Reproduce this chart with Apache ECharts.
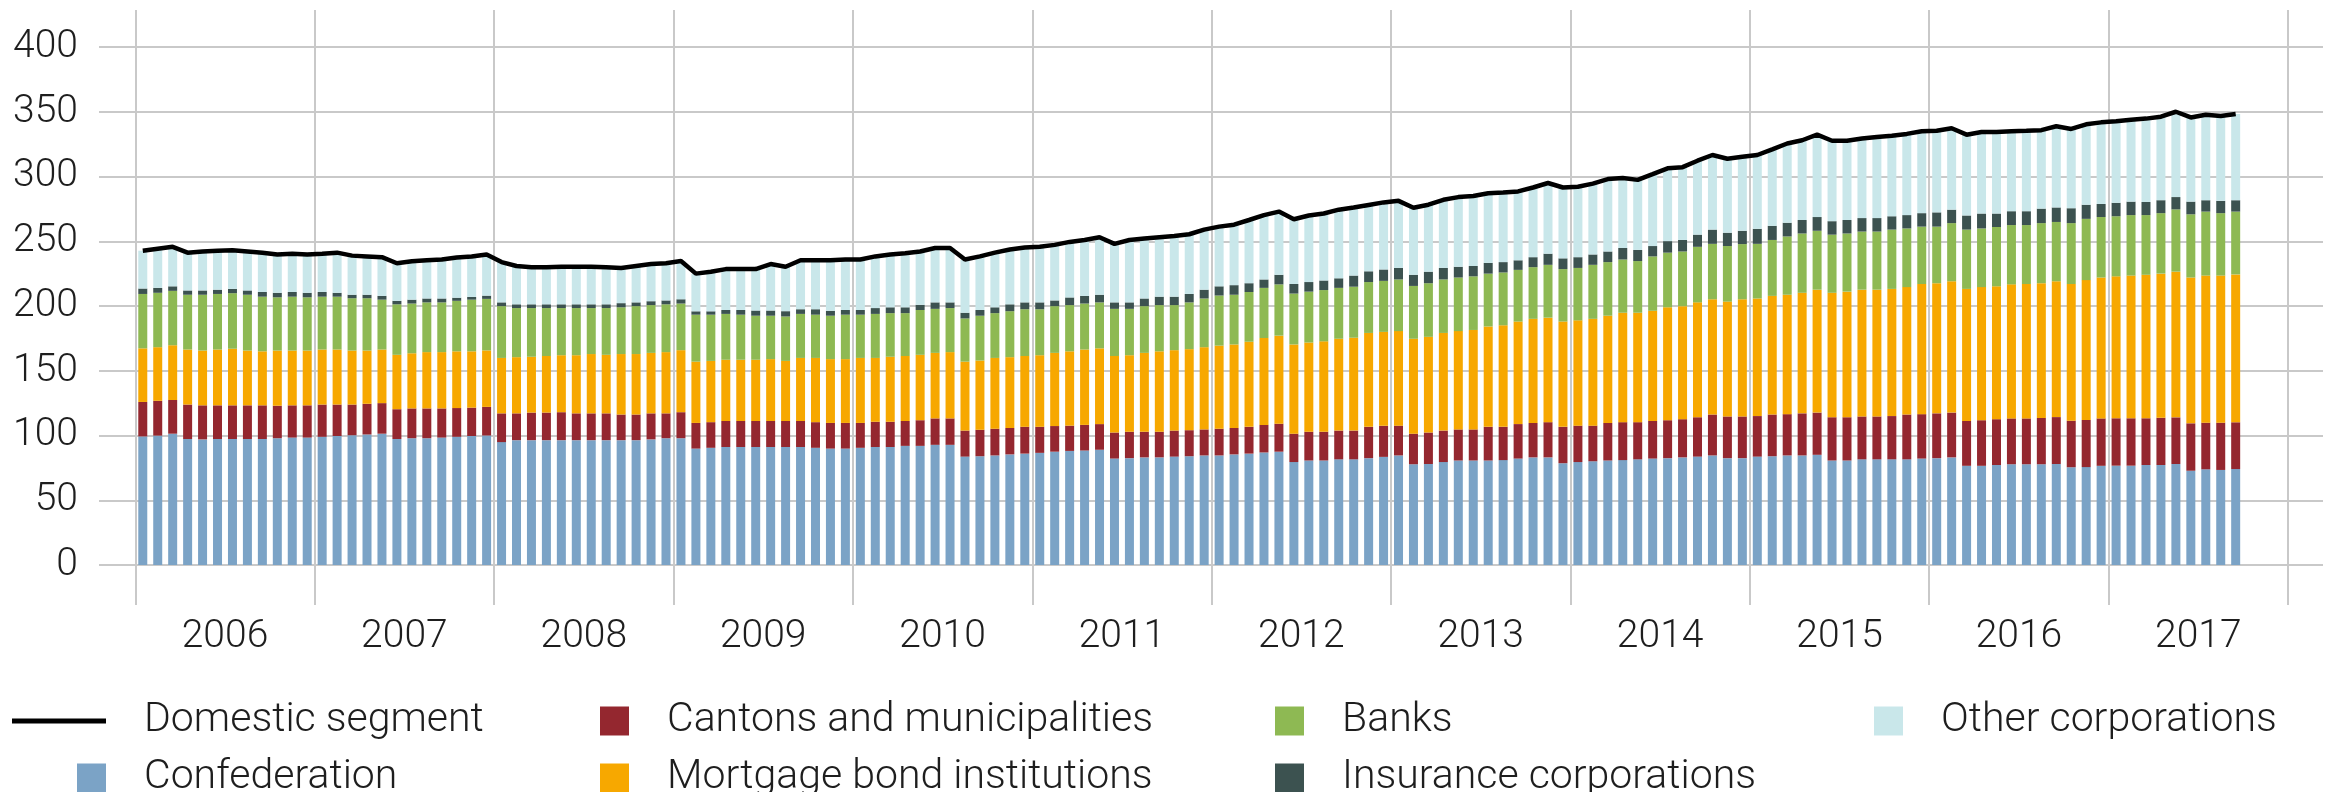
<!DOCTYPE html>
<html>
<head>
<meta charset="utf-8">
<script src="https://cdn.jsdelivr.net/npm/echarts@6/dist/echarts.min.js"></script>
<style>
  html, body { margin: 0; padding: 0; background: #fff; }
  #chart { width: 2335px; height: 792px; }
</style>
</head>
<body>
<div id="chart"></div>
<script>
// years on the axis, bars are monthly (Jan 2006 - Sep 2017)
const years = ['2006', '2007', '2008', '2009', '2010', '2011', '2012', '2013', '2014', '2015', '2016', '2017'];
const yTicks = [0, 50, 100, 150, 200, 250, 300, 350, 400];

// CHF bn, one row per year
const confederation = [
  99.3, 99.9, 101.4, 97.3, 97.0, 97.3, 97.3, 97.3, 97.3, 97.9, 98.4, 98.4,
  99.0, 99.6, 100.2, 100.8, 101.4, 97.3, 97.9, 97.9, 98.4, 99.0, 99.6, 100.0,
  94.9, 96.4, 96.4, 96.4, 96.4, 96.4, 96.4, 96.4, 96.4, 96.4, 97.0, 97.9,
  97.9, 89.9, 90.5, 91.1, 91.1, 91.1, 91.1, 91.1, 91.1, 90.5, 89.9, 89.9,
  90.5, 91.1, 91.1, 92.0, 92.0, 92.8, 92.8, 83.7, 84.0, 84.6, 85.4, 86.0,
  86.6, 87.5, 88.1, 88.4, 89.0, 82.2, 82.5, 83.1, 83.1, 83.7, 84.0, 84.6,
  84.6, 85.4, 86.0, 86.9, 87.5, 79.5, 80.7, 80.7, 81.6, 81.6, 82.5, 83.5,
  84.6, 77.8, 78.0, 79.5, 80.7, 80.7, 80.7, 81.0, 82.2, 83.1, 83.1, 78.6,
  79.5, 80.1, 80.7, 81.0, 81.6, 82.2, 82.5, 83.1, 83.7, 84.6, 82.5, 82.5,
  83.7, 84.0, 84.6, 84.6, 85.1, 80.7, 80.7, 81.6, 81.6, 81.6, 81.6, 82.2,
  82.5, 83.1, 76.6, 76.6, 77.2, 77.8, 77.8, 77.8, 78.0, 75.5, 75.6, 76.6,
  76.7, 76.7, 77.2, 77.2, 78.0, 72.8, 73.9, 73.4, 74.1
];
const cantons = [
  26.6, 26.9, 26.0, 26.6, 26.3, 26.0, 26.0, 26.0, 26.0, 25.1, 24.9, 24.9,
  24.9, 24.3, 23.7, 23.7, 23.6, 23.0, 23.0, 23.0, 22.5, 22.2, 21.9, 22.1,
  22.2, 20.7, 21.3, 21.3, 21.6, 20.7, 20.7, 20.7, 19.8, 19.8, 20.1, 19.2,
  20.1, 19.8, 19.8, 20.1, 20.1, 20.1, 20.1, 20.1, 20.1, 19.8, 19.8, 19.8,
  19.2, 19.5, 19.5, 19.2, 19.8, 20.4, 20.4, 20.1, 20.4, 20.6, 20.4, 20.7,
  20.1, 19.8, 19.5, 19.8, 19.8, 20.1, 20.4, 19.8, 19.8, 20.1, 20.1, 20.1,
  20.6, 20.4, 20.7, 21.3, 21.6, 21.9, 22.2, 22.2, 22.2, 22.2, 24.2, 24.0,
  23.0, 23.6, 24.3, 24.3, 24.0, 24.0, 26.0, 25.7, 26.6, 26.6, 27.2, 28.1,
  28.1, 27.5, 29.0, 29.3, 28.7, 29.0, 29.3, 29.5, 30.4, 31.6, 32.2, 32.2,
  31.3, 32.2, 31.9, 32.5, 32.6, 33.4, 33.4, 33.1, 33.1, 33.4, 34.6, 34.3,
  34.6, 34.6, 34.6, 35.2, 35.4, 35.4, 35.4, 35.7, 36.2, 35.9, 36.4, 36.6,
  36.6, 36.6, 36.1, 36.5, 36.0, 36.6, 36.0, 36.5, 36.1
];
const mortgage = [
  41.4, 41.4, 42.3, 42.5, 42.3, 43.1, 43.7, 42.3, 41.7, 42.6, 42.3, 42.3,
  42.5, 42.5, 41.7, 41.1, 41.4, 42.0, 42.6, 43.5, 43.5, 43.8, 43.5, 43.6,
  42.8, 43.4, 43.1, 43.7, 44.0, 44.9, 45.8, 45.2, 46.7, 46.7, 46.7, 47.3,
  47.9, 47.3, 47.3, 47.3, 47.3, 47.3, 47.8, 46.4, 48.7, 49.6, 49.3, 49.3,
  50.2, 49.3, 50.2, 50.2, 50.5, 50.6, 51.2, 53.2, 53.5, 54.7, 54.7, 54.7,
  55.3, 56.5, 57.4, 58.2, 58.5, 59.1, 59.1, 60.9, 62.1, 62.1, 62.6, 63.5,
  64.2, 64.5, 65.7, 67.1, 68.0, 68.9, 68.9, 69.8, 70.9, 71.7, 72.5, 72.5,
  73.0, 73.3, 73.9, 75.4, 75.9, 76.8, 77.5, 78.4, 79.2, 80.4, 80.7, 81.3,
  81.3, 82.5, 82.8, 84.5, 84.5, 85.1, 87.2, 87.3, 88.7, 89.0, 88.7, 90.5,
  90.8, 91.6, 92.2, 93.1, 94.9, 96.1, 97.0, 97.9, 97.9, 98.2, 98.4, 100.5,
  100.5, 101.4, 102.0, 102.8, 102.6, 103.5, 103.8, 104.1, 104.9, 105.6, 108.0, 108.8,
  109.6, 110.2, 110.8, 111.3, 112.5, 112.6, 113.6, 113.6, 114.2
];
const banks = [
  42.0, 42.0, 42.0, 42.3, 43.1, 42.9, 42.9, 43.1, 42.2, 41.1, 41.6, 41.1,
  40.8, 40.8, 40.4, 40.4, 38.5, 39.0, 38.4, 38.4, 38.4, 39.0, 39.9, 39.8,
  40.0, 37.9, 37.6, 37.0, 36.4, 36.4, 35.5, 36.1, 36.1, 37.0, 36.9, 36.9,
  36.0, 36.3, 35.7, 35.4, 34.8, 34.0, 33.5, 34.3, 34.0, 33.4, 33.5, 34.3,
  33.4, 34.0, 33.7, 33.1, 34.6, 34.0, 34.0, 33.4, 34.6, 34.6, 35.5, 36.1,
  35.5, 36.1, 35.7, 35.5, 35.5, 36.4, 35.8, 36.1, 35.7, 34.8, 36.1, 37.6,
  38.7, 38.4, 38.4, 38.7, 39.6, 39.3, 39.3, 39.6, 39.3, 39.4, 39.3, 39.4,
  39.9, 40.8, 41.4, 41.3, 41.4, 41.4, 40.8, 40.8, 39.9, 39.9, 40.8, 40.5,
  40.5, 41.7, 41.4, 41.1, 39.9, 42.0, 42.2, 42.2, 42.9, 42.8, 42.9, 42.6,
  42.2, 43.2, 45.0, 45.8, 45.5, 44.9, 44.9, 44.9, 44.9, 45.8, 45.3, 44.3,
  43.7, 44.9, 45.8, 45.3, 45.8, 45.8, 45.5, 46.4, 45.8, 47.0, 47.3, 46.7,
  46.4, 46.7, 46.1, 46.7, 48.1, 48.8, 49.4, 48.2, 48.5
];
const insurance = [
  4.2, 3.8, 3.5, 3.3, 3.3, 3.3, 3.3, 3.3, 3.6, 3.5, 3.6, 3.5,
  3.6, 3.0, 2.7, 2.7, 2.9, 2.7, 3.0, 3.0, 3.0, 2.4, 2.1, 2.5,
  2.9, 2.9, 2.9, 2.9, 2.9, 2.9, 2.9, 2.9, 3.2, 2.9, 3.0, 3.0,
  3.3, 2.6, 2.6, 3.0, 3.6, 4.0, 4.0, 4.1, 3.6, 4.2, 3.8, 3.6,
  3.6, 4.5, 4.5, 4.5, 4.0, 5.0, 4.4, 4.4, 4.4, 4.5, 5.3, 5.3,
  5.3, 4.4, 5.9, 5.9, 5.9, 5.0, 5.0, 5.9, 6.5, 6.5, 6.5, 6.8,
  7.1, 7.4, 6.8, 6.5, 7.4, 7.4, 7.4, 7.4, 7.4, 8.6, 8.3, 8.8,
  8.9, 8.6, 8.9, 8.9, 8.3, 8.0, 8.3, 8.0, 7.4, 7.7, 8.6, 8.3,
  8.3, 8.0, 8.2, 8.9, 8.6, 8.0, 8.9, 8.9, 9.4, 11.0, 10.3, 10.3,
  11.6, 10.9, 10.6, 10.4, 10.6, 10.4, 10.4, 10.4, 10.4, 10.3, 10.3, 10.4,
  11.0, 10.4, 10.9, 11.5, 10.4, 10.7, 10.7, 11.2, 11.2, 11.5, 10.9, 10.1,
  10.4, 10.4, 10.1, 10.0, 9.5, 9.8, 8.8, 9.5, 8.8
];
const otherCorps = [
  29.2, 30.2, 30.5, 29.2, 30.1, 30.1, 29.8, 30.1, 30.4, 29.6, 29.6, 29.6,
  29.6, 31.0, 30.2, 29.6, 29.9, 29.0, 29.6, 29.5, 30.1, 31.0, 31.3, 31.8,
  31.1, 29.6, 28.7, 28.7, 29.0, 29.0, 29.0, 28.7, 27.2, 28.1, 28.7, 28.7,
  29.5, 29.1, 30.5, 31.6, 31.6, 31.6, 35.5, 34.3, 37.8, 37.8, 39.0, 39.0,
  39.0, 39.9, 40.8, 41.7, 41.2, 42.0, 42.0, 41.1, 41.4, 42.2, 42.3, 42.3,
  42.9, 42.9, 42.9, 43.2, 44.4, 45.2, 48.2, 46.4, 45.9, 46.8, 46.1, 46.4,
  46.1, 46.7, 48.8, 49.7, 48.8, 50.0, 51.4, 51.7, 53.0, 52.5, 51.2, 51.8,
  51.8, 51.8, 51.7, 52.6, 53.8, 54.1, 53.8, 53.8, 53.2, 53.8, 54.6, 54.7,
  54.4, 54.7, 55.9, 54.1, 54.1, 55.5, 56.2, 56.2, 57.1, 57.6, 57.1, 57.1,
  57.0, 59.1, 61.2, 61.3, 63.6, 62.1, 61.2, 61.4, 62.6, 62.1, 62.7, 63.3,
  63.0, 62.9, 62.4, 63.0, 63.0, 61.8, 62.1, 60.6, 62.7, 61.2, 62.1, 63.0,
  62.9, 63.2, 64.4, 64.5, 65.9, 65.0, 66.0, 65.6, 66.6
];
const domestic = [
  242.7, 244.2, 245.7, 241.2, 242.1, 242.7, 243.0, 242.1, 241.2, 239.8, 240.4, 239.8,
  240.4, 241.2, 238.9, 238.3, 237.7, 233.0, 234.5, 235.3, 235.9, 237.4, 238.3, 239.8,
  233.9, 230.9, 230.0, 230.0, 230.3, 230.3, 230.3, 230.0, 229.4, 230.9, 232.4, 233.0,
  234.7, 225.0, 226.4, 228.5, 228.5, 228.5, 232.4, 230.3, 235.3, 235.3, 235.3, 235.9,
  235.9, 238.3, 239.8, 240.7, 242.1, 244.8, 244.8, 235.9, 238.3, 241.2, 243.6, 245.1,
  245.7, 247.2, 249.5, 251.0, 253.1, 248.0, 251.0, 252.2, 253.1, 254.0, 255.4, 259.0,
  261.3, 262.8, 266.4, 270.2, 272.9, 267.0, 269.9, 271.4, 274.4, 276.0, 278.0, 280.0,
  281.2, 275.9, 278.2, 282.0, 284.1, 285.0, 287.1, 287.7, 288.5, 291.5, 295.0, 291.5,
  292.1, 294.5, 298.0, 298.9, 297.4, 301.8, 306.3, 307.2, 312.2, 316.6, 313.7, 315.2,
  316.6, 321.0, 325.5, 328.0, 332.3, 327.6, 327.6, 329.3, 330.5, 331.4, 332.9, 335.0,
  335.3, 337.3, 332.3, 334.4, 334.4, 335.0, 335.3, 335.8, 338.8, 336.7, 340.3, 341.8,
  342.6, 343.8, 344.7, 346.2, 350.0, 345.6, 347.7, 346.8, 348.3
];

const months = [];
years.forEach(y => {
  for (let m = 1; m <= 12; m++) {
    months.push(y + '-' + (m < 10 ? '0' + m : m));
  }
});

const fontFamily = 'Roboto';
const textColor = '#1e1e1e';
const gridColor = '#c9c9c9';

const barSeries = [
  ['Confederation', confederation, '#7ba3c6'],
  ['Cantons and municipalities', cantons, '#94272f'],
  ['Mortgage bond institutions', mortgage, '#f7a800'],
  ['Banks', banks, '#8eb953'],
  ['Insurance corporations', insurance, '#3c5250'],
  ['Other corporations', otherCorps, '#c9e7ea']
].map(v => {
  return {
    name: v[0],
    type: 'bar',
    stack: 'total',
    xAxisIndex: 0,
    yAxisIndex: 0,
    barWidth: 9,
    data: v[1],
    itemStyle: { color: v[2] }
  };
});

function legendAt(name, left, top, width, height) {
  return {
    data: [name],
    left: left,
    top: top,
    padding: 0,
    icon: 'rect',
    itemWidth: width,
    itemHeight: height,
    selectedMode: false,
    textStyle: {
      fontFamily,
      fontWeight: 300,
      fontSize: 41,
      lineHeight: 29,
      color: textColor,
      padding: [0, 0, 0, 33]
    }
  };
}

const option = {
  animation: false,
  backgroundColor: '#fff',
  grid: [
    // bars + line
    { left: 135.3, right: 47, top: 47, bottom: 227 },
    // horizontal grid lines and value labels
    { left: 99, right: 12, top: 47, bottom: 227 },
    // vertical year separators and year labels
    { left: 135.3, right: 47, top: 10, bottom: 187 }
  ],
  legend: [
    // line key drawn as a thin black bar
    legendAt('Domestic segment', 12, 700.5, 94, 5),
    legendAt('Confederation', 77, 757.5, 29, 29),
    legendAt('Cantons and municipalities', 600, 700.5, 29, 29),
    legendAt('Mortgage bond institutions', 600, 757.5, 29, 29),
    legendAt('Banks', 1275, 700.5, 29, 29),
    legendAt('Insurance corporations', 1275, 757.5, 29, 29),
    legendAt('Other corporations', 1874, 700.5, 29, 29)
  ],
  xAxis: [
    {
      gridIndex: 0,
      type: 'category',
      data: months,
      show: false
    },
    {
      gridIndex: 1,
      type: 'value',
      show: false
    },
    {
      gridIndex: 2,
      type: 'category',
      data: years,
      boundaryGap: true,
      axisLine: { show: false },
      axisTick: { show: false },
      splitLine: {
        show: true,
        interval: 0,
        lineStyle: { color: gridColor, width: 2 }
      },
      axisLabel: {
        interval: 0,
        margin: 13,
        fontFamily,
        fontWeight: 300,
        fontSize: 39,
        color: textColor
      }
    }
  ],
  yAxis: [
    {
      gridIndex: 0,
      type: 'value',
      min: 0,
      max: 400,
      show: false
    },
    {
      gridIndex: 1,
      type: 'value',
      min: yTicks[0],
      max: yTicks[yTicks.length - 1],
      interval: 50,
      axisLine: { show: false },
      axisTick: { show: false },
      splitLine: {
        lineStyle: { color: gridColor, width: 2 }
      },
      axisLabel: {
        margin: 21,
        fontFamily,
        fontWeight: 300,
        fontSize: 39,
        color: textColor
      }
    },
    {
      gridIndex: 2,
      type: 'value',
      show: false
    }
  ],
  series: barSeries.concat([
    {
      name: 'Domestic segment',
      type: 'line',
      xAxisIndex: 0,
      yAxisIndex: 0,
      data: domestic,
      symbol: 'none',
      z: 5,
      itemStyle: { color: '#000' },
      lineStyle: { color: '#000', width: 4.5 }
    }
  ])
};

const chart = echarts.init(document.getElementById('chart'));
chart.setOption(option);
</script>
</body>
</html>
